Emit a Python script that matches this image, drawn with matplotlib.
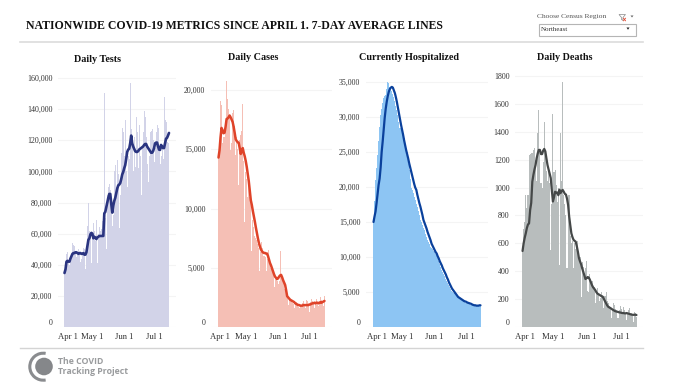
import matplotlib
matplotlib.use("Agg")
import matplotlib.pyplot as plt
from matplotlib.patches import Circle, Arc, Rectangle, Polygon

W, H = 679, 383
SERIF = "Liberation Serif"
SANS = "Open Sans"

# ---- data (one value per day from Apr 1) ----
tests_bars = [35,40,47,48,42,40,43,46,54,53,52,47,45,46,50,48,42,44,48,51,50,37,47,65,80,62,58,41,60,67,62,55,69,41,60,64,62,63,68,60,
              150.5,70,50,85,90,92,88,80,65,72,100,104,90,107,98,63.5,85,112,128,125,110,133,100,90,110,108,157,127,118,100,122,103,134.7,125,102,130,110,85,115,125,
              139,135,122,105,93,110,125.5,126,127,120,106,115,125,130,128,115,105,110,115,108,148,133,132,119,118,116]
tests_line = [34.7,37,42,42.5,42,42,44,45.5,47,47.5,47.5,48,48,47.5,47,47.5,47.5,47,47,47.5,46.5,46.5,48,52,56,57,59.5,60.5,60,57,58,57.5,56.5,57.5,58,58.5,58.5,58.5,58.5,58.5,
              73,74,77,80,83,85.5,85.5,79,73.5,78,81,83,86,89,91,91.5,92.5,95,98,99.6,102,104,108,112.5,114,114.5,118,123,118,116,114.5,113,112.5,112.5,113,114,114.5,115,115.5,116,
              117,117.6,117.6,116,115,114,113,112,112,113,115,118,118.5,118.5,116,114,113.8,117,116,115,115,118,121,121.5,123,124.7]
cases_bars = [14.3,14.5,19.05,18.7,15.5,16,16,16.5,20.8,19.2,18.4,17.9,14.9,15.5,18.1,18.3,17,14.5,16,15,12,15.8,16.2,16.5,18.8,14,8.9,13.1,12.5,11,12,11,10.6,6.4,9,8.4,7.7,7.5,7.3,7,
              6.7,4.7,6.3,7.2,6.7,6,6,5.9,4.7,5.7,6.5,5.6,5,4.8,4.4,3.35,4.2,4.1,3.9,3.6,3.9,6.4,4.4,3.9,3.7,3.2,3.5,2.8,2.5,1.85,2.4,2.3,2.2,2.0,1.95,1.6,1.9,2.1,1.9,1.7,
              1.6,1.8,1.7,2.0,2.2,1.8,1.6,2.3,2.2,1.9,1.3,2.1,2.4,2.2,2.1,1.6,2.0,2.4,2.1,1.8,2.0,2.5,2.3,2.0,1.8,2.6]
cases_line = [14.3,14.9,16.0,16.8,16.6,16.35,16.4,16.9,17.55,17.6,17.7,17.85,17.7,17.5,17.3,16.9,16.4,15.85,15.7,15.6,15.55,15.1,14.6,14.8,15.1,14.7,14.4,14,13.5,12.9,12.3,11.5,10.7,10.3,9.8,9.35,8.9,8.4,7.95,7.5,7.1,6.8,6.55,6.4,6.3,6.25,6.25,6.2,6.2,6.0,5.7,5.4,5.2,4.95,4.7,4.45,4.25,4.15,4.05,4.1,4.25,4.35,4.4,4.2,3.95,3.75,3.55,3.1,2.6,2.5,2.4,2.3,2.25,2.2,2.15,2.1,2.0,1.95,1.9,1.85,1.85,1.8,1.8,1.8,1.85,1.85,1.85,1.85,1.85,1.85,1.9,1.9,1.95,2.0,2.0,2.05,2.0,2.05,2.05,2.0,2.05,2.1,2.05,2.1,2.15,2.2]
hosp_bars = [15,18,21,22.7,24.5,26.5,28.5,30.3,31.2,32,32.7,33,33.2,34,35,34.8,34.3,34,33.7,33.3,32.9,32.3,31.6,31,30.3,29.3,28.4,28.1,27.9,27.7,27,26.2,24.6,24,23.3,22.4,21.1,19.9,19.6,19.1,18.6,18.1,17.6,17.1,16.6,16,15.3,15,14.6,14.1,13.8,13.3,12.8,12.4,12.1,11.8,11.5,11.3,11.1,10.9,10.7,10.5,10.3,9.9,9.5,9,8.6,8.2,7.9,7.6,7.3,6.9,6.6,6.3,6,5.7,5.4,5.2,5,4.8,4.6,4.4,4.3,4.2,4.1,4,3.9,3.8,3.7,3.6,3.5,3.45,3.4,3.3,3.25,3.2,3.15,3.1,3.1,3.05,3.05,3,3,3.05,3.05,3.05]
hosp_line = [15,15.8,16.5,17.7,19,20.3,21.2,22.8,25,26.5,28.2,29.9,31.2,32.2,33,33.6,34,34.2,34.3,34.2,33.8,33.4,32.8,32.1,31.3,30.5,29.7,28.9,28.2,27.5,26.7,26,25.3,24.7,24.1,23.4,22.8,22.2,21.6,21,20.4,19.9,19.6,18.9,18.3,17.7,17.2,16.6,16,15.3,14.9,14.5,14.1,13.6,13.2,12.8,12.4,11.9,11.6,11.3,11,10.7,10.5,10.1,9.8,9.4,9.1,8.8,8.4,8.1,7.8,7.5,7.1,6.8,6.4,6.1,5.8,5.5,5.3,5.1,4.9,4.7,4.5,4.3,4.2,4.1,4,3.9,3.8,3.7,3.65,3.6,3.5,3.45,3.4,3.35,3.3,3.2,3.15,3.1,3.1,3.05,3.05,3.05,3.1,3.1]
deaths_bars = [545,700,750,947,850,950,1234,1240,1250,1248,1270,1284,1200,1050,1391,1557,1250,1030,1000,1180,1470,1250,1120,1050,1150,1030,552,880,1528,1110,1126,1020,900,1000,445,1391,1050,1760,950,880,
               800,423,947,947,650,600,620,423,600,560,580,620,490,500,217,468,430,380,422,470,260,253,380,340,330,290,286,170,260,280,230,190,210,250,230,135,220,250,190,170,
               150,140,65,130,174,160,130,120,65,120,150,130,90,146,120,95,50,100,120,136,100,80,38,110,100,74]
deaths_line = [545,600,640,672,710,735,743,839,890,1042,1090,1130,1162,1210,1245,1270,1270,1240,1240,1265,1277,1260,1210,1162,1130,1100,1068,980,900,930,970,960,965,945,985,960,975,983,970,955,
               950,920,875,791,730,672,645,625,618,612,580,540,494,470,450,420,395,370,344,350,358,355,340,320,300,285,275,265,250,240,235,230,225,220,217,200,185,170,155,145,
               140,136,130,125,120,115,112,110,108,105,104,102,100,100,98,98,100,97,95,92,90,88,87,88,88,86]

panels = ["Daily Tests", "Daily Cases", "Currently Hospitalized", "Daily Deaths"]
date_labels = ["Apr 1", "May 1", "Jun 1", "Jul 1"]
tests_ticks = [0, 20000, 40000, 60000, 80000, 100000, 120000, 140000, 160000]
cases_ticks = [0, 5000, 10000, 15000, 20000]
hosp_ticks = [0, 5000, 10000, 15000, 20000, 25000, 30000, 35000]
deaths_ticks = [0, 200, 400, 600, 800, 1000, 1200, 1400, 1600, 1800]

def ax_px(x0, x1, y0, y1):
    return fig.add_axes([x0 / W, 1 - y1 / H, (x1 - x0) / W, (y1 - y0) / H])

fig = plt.figure(figsize=(W / 100, H / 100), dpi=100, facecolor="white")

def panel(title, tcx, tcy, bars, line, scale, ticks, bar_c, line_c, lw,
          grid_l, grid_r, bar_l, bar_r, ppv, xpos, fmt):
    ax = ax_px(grid_l, grid_r, 70, 327)
    ax.set_ylim(0, 257 / ppv)
    n = len(bars)
    ppd = (bar_r - bar_l) / n
    ax.set_xlim((grid_l - bar_l) / ppd - 0.5, (grid_r - bar_l) / ppd - 0.5)
    days = list(range(n))
    ax.bar(days, [v * scale for v in bars], width=1.0, color=bar_c, linewidth=0, zorder=2)
    ax.plot(days, [v * scale for v in line], color=line_c, lw=lw, zorder=3,
            solid_capstyle="round", solid_joinstyle="round")
    ax.set_yticks(ticks)
    ax.set_yticklabels([fmt(t) for t in ticks], fontfamily=SERIF, fontsize=5.7, color="#333333")
    ax.yaxis.get_ticklabels()[0].set_va("bottom")
    ax.set_xticks(xpos)
    ax.set_xticklabels(date_labels, fontfamily=SERIF, fontsize=6.2, color="#333333")
    ax.tick_params(length=0, pad=4)
    ax.tick_params(axis="y", pad=4)
    ax.grid(axis="y", color="#f4f4f4", lw=0.8, zorder=0)
    ax.set_axisbelow(True)
    for s in ax.spines.values():
        s.set_visible(False)
    ax.patch.set_alpha(0)
    fig.text(tcx / W, 1 - tcy / H, title, ha="center", va="center",
             fontfamily=SERIF, fontweight="bold", fontsize=7.3, color="#111111")

comma = lambda t: f"{t:,}"
panel(panels[0], 98, 59, tests_bars, tests_line, 1000, tests_ticks, "#d2d3e8", "#2a3480", 1.9,
      58, 176, 64, 169.5, 249 / 160000, [3.5, 28, 60, 90], comma)
panel(panels[1], 253, 58, cases_bars, cases_line, 1000, cases_ticks, "#f5bfb5", "#df4329", 1.8,
      211, 332, 218, 325, 237 / 20000, [1, 27.5, 59, 90], comma)
panel(panels[2], 409, 58, hosp_bars, hosp_line, 1000, hosp_ticks, "#8dc5f3", "#0a419c", 1.6,
      366, 488, 373, 481, 245 / 35000, [3, 28, 60, 91], comma)
panel(panels[3], 565, 58, deaths_bars, deaths_line, 1, deaths_ticks, "#b8bdbd", "#454848", 1.6,
      515, 643, 522, 637, 251 / 1800, [2, 28.5, 60, 91], lambda t: str(t))

# overlay in pixel coordinates
ov = fig.add_axes([0, 0, 1, 1], zorder=10)
ov.set_xlim(0, W)
ov.set_ylim(H, 0)
ov.axis("off")
ov.patch.set_alpha(0)
ov.text(26, 26, "NATIONWIDE COVID-19 METRICS SINCE APRIL 1. 7-DAY AVERAGE LINES",
        fontfamily=SERIF, fontweight="bold", fontsize=8.5, color="#111111", va="center", ha="left")
ov.plot([20, 643], [42, 42], color="#dcdcdc", lw=1.2)
ov.plot([20, 643], [347.5, 347.5], color="#d4d4d4", lw=1.0)
ov.text(537, 16.5, "Choose Census Region", fontfamily=SERIF, fontsize=5.4, color="#555555", va="center")
ov.add_patch(Rectangle((538.5, 23.5), 97, 12, fc="white", ec="#b5b5b5", lw=0.8))
ov.text(541, 29.5, "Northeast", fontfamily=SERIF, fontsize=5.0, color="#333333", va="center")
ov.add_patch(Polygon([(626.5, 27.5), (629.5, 27.5), (628, 29.8)], fc="#222222", ec="none"))
# filter icon and caret
ov.add_patch(Polygon([(619, 14.5), (625.5, 14.5), (623, 17.5), (623, 20.5), (621.5, 19.5), (621.5, 17.5)],
                     fc="white", ec="#888888", lw=0.5))
ov.plot([623.5, 625.5], [18.2, 20.8], color="#e0432b", lw=0.6)
ov.plot([625.5, 623.5], [18.2, 20.8], color="#e0432b", lw=0.6)
ov.add_patch(Polygon([(630.5, 15.5), (633.5, 15.5), (632, 17.5)], fc="#666666", ec="none"))

# logo
ov.add_patch(Circle((44, 366.5), 8.8, fc="#85878a", ec="none"))
ov.add_patch(Arc((43.3, 366.7), 27, 27, theta1=80, theta2=280, ec="#8a8c8f", lw=2.2))
ov.text(57.5, 362, "The COVID", fontfamily=SANS, fontweight="bold", fontsize=6.3, color="#9a9c9e", va="center")
ov.text(57.5, 371.5, "Tracking Project", fontfamily=SANS, fontweight="bold", fontsize=6.3, color="#9a9c9e", va="center")

fig.savefig("out.png", dpi=100)
